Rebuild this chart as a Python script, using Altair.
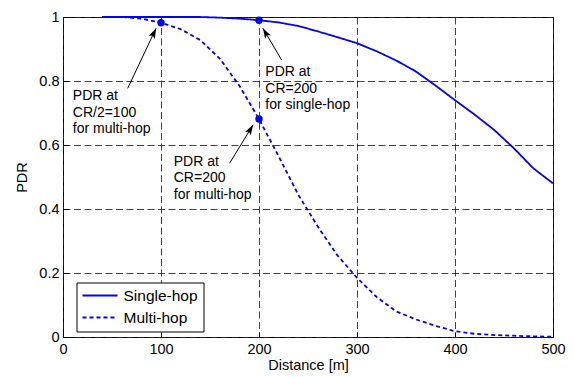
import altair as alt
import pandas as pd

# ---- data ----
distance = [40, 60, 80, 100, 120, 140, 160, 180, 200, 220, 240, 260, 280, 300,
            320, 340, 360, 380, 400, 420, 440, 460, 480, 500]
single_hop = [1.0, 1.0, 1.0, 1.0, 1.0, 1.0, 0.998, 0.995, 0.99, 0.983, 0.972, 0.955,
              0.937, 0.918, 0.893, 0.864, 0.83, 0.786, 0.74, 0.695, 0.647, 0.59, 0.527, 0.48]
multi_hop = [1.0, 1.0, 0.995, 0.982, 0.962, 0.928, 0.87, 0.785, 0.681, 0.565, 0.445, 0.345,
             0.255, 0.185, 0.125, 0.08, 0.055, 0.035, 0.018, 0.01, 0.006, 0.004, 0.002, 0.001]
series_names = ["Single-hop", "Multi-hop"]

marker_x = [100, 200, 200]
marker_y = [0.982, 0.99, 0.681]

arrow_tail_x = [66, 223, 170]
arrow_tail_y = [0.777, 0.866, 0.543]
arrow_head_x = [95, 204, 194]
arrow_head_y = [0.965, 0.965, 0.663]
arrow_angle = [25, 330, 31]

note_x = [10, 206.5, 113]
note_y = [0.775, 0.85, 0.569]
note_text = ["PDR at\nCR/2=100\nfor multi-hop",
             "PDR at\nCR=200\nfor single-hop",
             "PDR at\nCR=200\nfor multi-hop"]

x_ticks = [0, 100, 200, 300, 400, 500]
y_ticks = [0, 0.2, 0.4, 0.6, 0.8, 1]

# ---- tables ----
lines_df = pd.DataFrame({
    "distance": distance * 2,
    "pdr": single_hop + multi_hop,
    "series": [series_names[0]] * len(distance) + [series_names[1]] * len(distance),
})
markers_df = pd.DataFrame({"x": marker_x, "y": marker_y})
arrows_df = pd.DataFrame({"x": arrow_tail_x, "y": arrow_tail_y,
                          "x2": arrow_head_x, "y2": arrow_head_y, "angle": arrow_angle})
notes_df = pd.DataFrame({"x": note_x, "y": note_y, "text": note_text})

FONT = "Liberation Sans"
BLUE = "#0000ff"

xscale = alt.Scale(domain=[0, 500], nice=False, zero=False)
yscale = alt.Scale(domain=[0, 1], nice=False)

xaxis = alt.Axis(values=x_ticks, format="d", title="Distance [m]", grid=True,
                 gridDash=[7, 3.5], gridColor="#222", gridOpacity=0.85, gridWidth=1,
                 domain=False, ticks=True, tickSize=5, offset=-5, tickColor="black",
                 labelFlush=False, labelOverlap=False,
                 labelFontSize=14.5, labelFont=FONT, labelColor="black", labelPadding=5,
                 titleFont=FONT, titleFontSize=14.5, titleFontWeight="normal",
                 titleColor="black", titlePadding=3)
yaxis = alt.Axis(values=y_ticks, format="~g", title="PDR", grid=True,
                 gridDash=[7, 3.5], gridColor="#222", gridOpacity=0.85, gridWidth=1,
                 domain=False, ticks=True, tickSize=5, offset=-5, tickColor="black",
                 labelFlush=False, labelOverlap=False,
                 labelFontSize=14.5, labelFont=FONT, labelColor="black", labelPadding=4,
                 titleFont=FONT, titleFontSize=14.5, titleFontWeight="normal",
                 titleColor="black", titlePadding=9)

lines = alt.Chart(lines_df).mark_line(strokeWidth=1.8, clip=False).encode(
    x=alt.X("distance:Q", scale=xscale, axis=xaxis),
    y=alt.Y("pdr:Q", scale=yscale, axis=yaxis),
    color=alt.Color("series:N", scale=alt.Scale(domain=series_names, range=[BLUE, BLUE]),
                    title=None),
    strokeDash=alt.StrokeDash("series:N",
                              scale=alt.Scale(domain=series_names, range=[[1, 0], [4, 3]]),
                              title=None),
)

markers = alt.Chart(markers_df).mark_point(filled=True, color=BLUE, size=55, opacity=1).encode(
    x=alt.X("x:Q", scale=xscale), y=alt.Y("y:Q", scale=yscale))

arrow_lines = alt.Chart(arrows_df).mark_rule(color="black", strokeWidth=1).encode(
    x=alt.X("x:Q", scale=xscale), y=alt.Y("y:Q", scale=yscale),
    x2="x2:Q", y2="y2:Q")

arrow_heads = alt.Chart(arrows_df).mark_point(
    shape="M0,0 L0.33,1 L0,0.78 L-0.33,1 Z", filled=True, color="black", size=420, opacity=1
).encode(
    x=alt.X("x2:Q", scale=xscale), y=alt.Y("y2:Q", scale=yscale),
    angle=alt.Angle("angle:Q", scale=None))

notes = alt.Chart(notes_df).mark_text(
    align="left", baseline="top", font=FONT, fontSize=14, lineHeight=16.5,
    lineBreak="\n", color="black"
).encode(x=alt.X("x:Q", scale=xscale), y=alt.Y("y:Q", scale=yscale), text="text:N")

chart = alt.layer(lines, arrow_lines, arrow_heads, markers, notes).properties(
    width=490, height=320,
    autosize=alt.AutoSizeParams(type="none"),
    padding={"left": 63, "top": 17, "right": 21, "bottom": 40},
).configure_view(
    stroke="black", strokeWidth=1
).configure_legend(
    orient="none", legendX=13.5, legendY=265.5, strokeColor="black", fillColor="white",
    padding=5, symbolType="stroke", symbolSize=1225, symbolStrokeWidth=1.8,
    clipHeight=16, labelFontSize=15.5, labelFont=FONT, labelColor="black",
    rowPadding=5, labelOffset=5, cornerRadius=0,
)

chart.save("out.html", embed_options={"renderer": "svg", "actions": False})
